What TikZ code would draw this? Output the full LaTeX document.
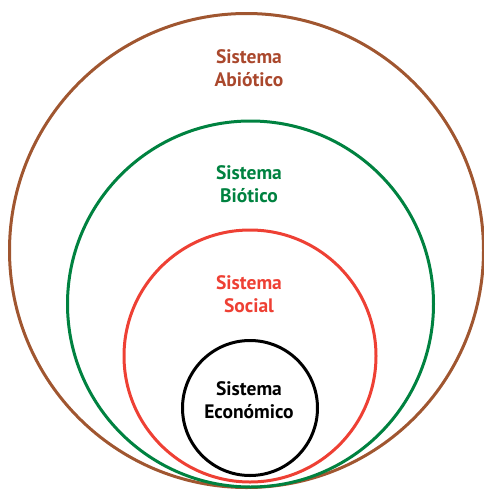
\documentclass[tikz,border=0pt]{standalone}
\usepackage{fontspec}
\setmainfont{PT Sans}
\definecolor{cbrown}{RGB}{160,86,48}
\definecolor{tbrown}{RGB}{170,72,45}
\definecolor{cgreen}{RGB}{0,130,64}
\definecolor{cred}{RGB}{238,64,52}
\begin{document}
\begin{tikzpicture}[x=1pt,y=-1pt,
  ring/.style={line width=3pt},
  lbl/.style={font=\fontsize{19.5}{23}\selectfont\bfseries, align=center, inner sep=0pt}]
\useasboundingbox (0,0) rectangle (484,490);
\draw[ring, cbrown] (246.5,250.5) circle[radius=237];
\draw[ring, cgreen] (250.5,304) circle[radius=183];
\draw[ring, cred] (250,356) circle[radius=126];
\draw[ring, black] (250,408) circle[radius=67.5];
\node[lbl, text=tbrown] (abio) at (249,68.5) {Sistema\\Abiótico};
\node[lbl, text=cgreen] (bio) at (249,184.5) {Sistema\\Biótico};
\node[lbl, text=cred] (soc) at (249,294.5) {Sistema\\Social};
\node[lbl, text=black] (eco) at (249,400.5) {Sistema\\Económico};
\end{tikzpicture}
\end{document}
